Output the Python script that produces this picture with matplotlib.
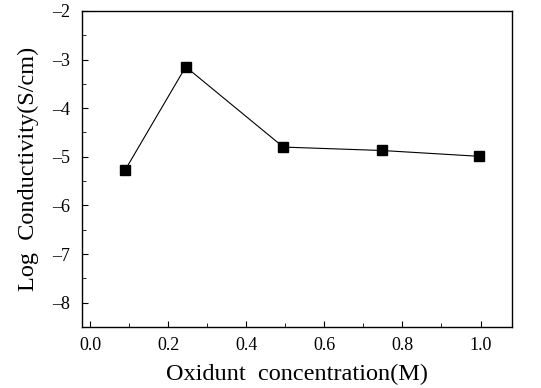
import matplotlib
matplotlib.use("Agg")
import matplotlib.pyplot as plt
from matplotlib.ticker import MultipleLocator, FuncFormatter

plt.rcParams['font.family'] = ['Liberation Serif', 'DejaVu Serif']

conc = [0.09, 0.245, 0.495, 0.747, 0.997]
log_cond = [-5.27, -3.15, -4.80, -4.87, -4.99]

fig = plt.figure(figsize=(5.41, 3.88), dpi=100)
ax = fig.add_axes([0.152, 0.157, 0.794, 0.815])
ax.plot(conc, log_cond, color='black', lw=0.8, marker='s', ms=7, mfc='black', mec='black')

ax.set_xlim(-0.02, 1.08)
ax.set_ylim(-8.5, -2)
ax.xaxis.set_major_locator(MultipleLocator(0.2))
ax.xaxis.set_minor_locator(MultipleLocator(0.1))
ax.yaxis.set_major_locator(MultipleLocator(1))
ax.yaxis.set_minor_locator(MultipleLocator(0.5))
ax.tick_params(which='both', direction='in', top=False, right=False, labelsize=13)
ax.tick_params(axis='x', which='major', length=4, pad=7)
ax.tick_params(axis='y', which='major', length=4, pad=9)
ax.tick_params(which='minor', length=3)
ax.xaxis.set_major_formatter(FuncFormatter(lambda v, p: f"{v:.1f}"))
ax.yaxis.set_major_formatter(FuncFormatter(lambda v, p: f"{v:.0f}".replace('-', '\u2013')))
for s in ax.spines.values():
    s.set_linewidth(1.0)
ax.set_xlabel('Oxidunt  concentration(M)', fontsize=17.5, labelpad=7)
ax.set_ylabel('Log  Conductivity(S/cm)', fontsize=17.5, labelpad=9)
fig.savefig('out.png', dpi=100)
